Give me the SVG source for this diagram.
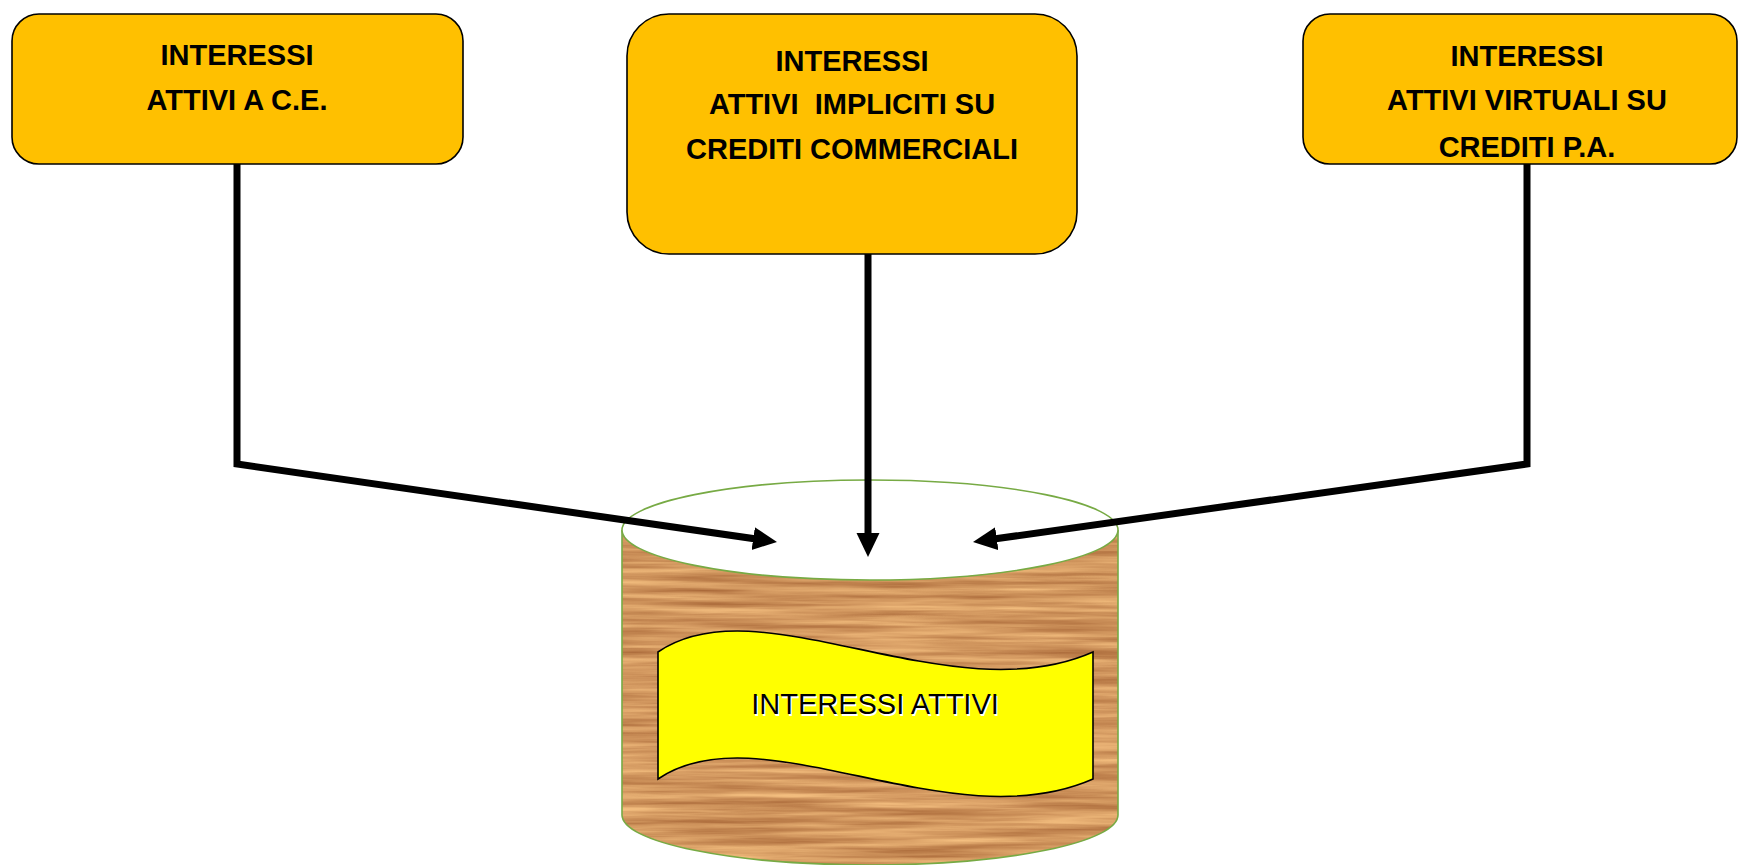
<svg xmlns="http://www.w3.org/2000/svg" width="1742" height="865" viewBox="0 0 1742 865">
  <style>
    .box { fill: #FFC000; stroke: #000; stroke-width: 1.6; }
    .lbl { font-family: "Liberation Sans", Arial, sans-serif; font-weight: bold; font-size: 29px; fill: #000; text-anchor: middle; }
    .conn { fill: none; stroke: #000; stroke-width: 7; stroke-linejoin: miter; marker-end: url(#head); }
    .rim { stroke: #77AA44; stroke-width: 1.6; }
    .banner-txt { font-family: "Liberation Sans", Arial, sans-serif; font-size: 29px; text-anchor: middle; }
  </style>
  <defs>
    <marker id="head" markerUnits="userSpaceOnUse" markerWidth="26" markerHeight="24" refX="12" refY="11.5" orient="auto">
      <path d="M0,0 L24,11.5 L0,23 Z" fill="#000"/>
    </marker>
    <!-- horizontal wood grain -->
    <filter id="wood" filterUnits="userSpaceOnUse" x="600" y="470" width="540" height="400" color-interpolation-filters="sRGB">
      <feTurbulence type="fractalNoise" baseFrequency="0.006 0.16" numOctaves="4" seed="7" result="n"/>
      <feColorMatrix in="n" type="matrix" values="0.38 0 0 0 0.63  0.44 0 0 0 0.37  0.36 0 0 0 0.19  0 0 0 0 1"/>
    </filter>
    <clipPath id="body-clip">
      <path d="M622,530 L622,815 A248,50 0 0 0 1118,815 L1118,530 Z"/>
    </clipPath>
  </defs>

  <rect width="1742" height="865" fill="#fff"/>

  <!-- cylinder container -->
  <g id="cylinder">
    <g clip-path="url(#body-clip)">
      <rect x="600" y="470" width="540" height="400" filter="url(#wood)"/>
    </g>
    <path class="rim" fill="none" d="M622,530 L622,815 A248,50 0 0 0 1118,815 L1118,530"/>
    <ellipse class="rim" cx="870" cy="530" rx="248" ry="50" fill="#fff"/>
  </g>

  <!-- wavy banner label -->
  <g id="banner">
    <path d="M658,652 C760,582 950,715 1093,652 L1093,779 C950,842 760,709 658,779 Z" fill="#FFFF00" stroke="#000" stroke-width="1.6"/>
    <text class="banner-txt" x="876.5" y="715.5" fill="#fff">INTERESSI ATTIVI</text>
    <text class="banner-txt" x="875" y="714" fill="#000">INTERESSI ATTIVI</text>
  </g>

  <!-- source boxes -->
  <g id="box-ce">
    <rect class="box" x="12" y="14" width="451" height="150" rx="27" ry="27"/>
    <text class="lbl" x="237" y="65">INTERESSI</text>
    <text class="lbl" x="237" y="110">ATTIVI A C.E.</text>
  </g>
  <g id="box-impliciti">
    <rect class="box" x="627" y="14" width="450" height="240" rx="42" ry="42"/>
    <text class="lbl" x="852" y="71">INTERESSI</text>
    <text class="lbl" x="852" y="114" xml:space="preserve">ATTIVI  IMPLICITI SU</text>
    <text class="lbl" x="852" y="159">CREDITI COMMERCIALI</text>
  </g>
  <g id="box-virtuali">
    <rect class="box" x="1303" y="14" width="434" height="150" rx="27" ry="27"/>
    <text class="lbl" x="1527" y="66">INTERESSI</text>
    <text class="lbl" x="1527" y="110">ATTIVI VIRTUALI SU</text>
    <text class="lbl" x="1527" y="157">CREDITI P.A.</text>
  </g>

  <!-- connectors -->
  <g id="connectors">
    <path class="conn" d="M237,164 L237,464 L765.1,540.3"/>
    <path class="conn" d="M868,254 L868,545"/>
    <path class="conn" d="M1527,164 L1527,464 L984.9,540.3"/>
  </g>
</svg>
